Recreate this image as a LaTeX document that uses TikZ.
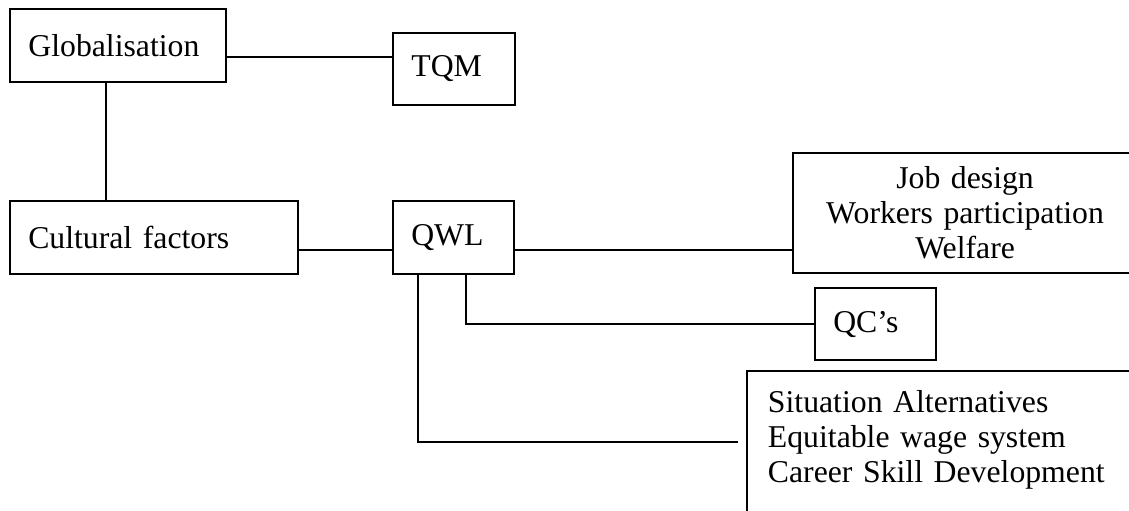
\documentclass[tikz,border=0pt]{standalone}
\usepackage{fontspec}
\setmainfont{Liberation Serif}
\tikzset{
  orgbox/.style   = {draw, line width=0.8pt, align=left, inner xsep=7.2pt,
                     minimum height=1cm, font=\fontsize{12.5}{13.8}\selectfont},
  linkline/.style = {line width=0.8pt}
}

\begin{document}
\begin{tikzpicture}
  \path[use as bounding box, clip] (0,0) rectangle (15.626,7.059);
  \node[orgbox, text width=2.48cm] (glob) at (1.633,6.429) {Globalisation};
  \node[orgbox, text width=1.18cm] (tqm) at (6.284,6.104) {TQM};
  \node[orgbox, text width=3.48cm] (cult) at (2.131,3.772) {Cultural factors};
  \node[orgbox, text width=1.17cm] (qwl) at (6.277,3.772) {QWL};
  \node[orgbox, align=center, text width=4.25cm, minimum height=1.66cm] (jobs)
    at (13.357,4.111) {Job design\\Workers participation\\Welfare};
  \node[orgbox, text width=1.17cm] (qcs) at (12.118,2.574) {QC’s};
  \node[orgbox, anchor=north west, text width=6cm, inner xsep=0.29cm,
        inner ysep=7.5pt, text depth=3cm] (sit) at (10.325,1.938)
    {Situation Alternatives\\Equitable wage system\\Career Skill Development};
  \draw[linkline] ([yshift=-1.6mm]glob.east) -- ([yshift=-1.6mm]glob.east -| tqm.west);
  \draw[linkline] ([xshift=-1.66mm]glob.south) -- ([xshift=-1.66mm]glob.south |- cult.north);
  \draw[linkline] ([yshift=-1.7mm]cult.east) -- ([yshift=-1.7mm]cult.east -| qwl.west);
  \draw[linkline] ([yshift=-1.7mm]qwl.east) -- ([yshift=-1.7mm]qwl.east -| jobs.west);
  \draw[linkline] ([xshift=1.73mm]qwl.south) |- (qcs.west);
  \draw[linkline] ([xshift=-4.91mm]qwl.south) |- ([xshift=-1.1mm,yshift=-10mm]sit.north west);
\end{tikzpicture}
\end{document}
